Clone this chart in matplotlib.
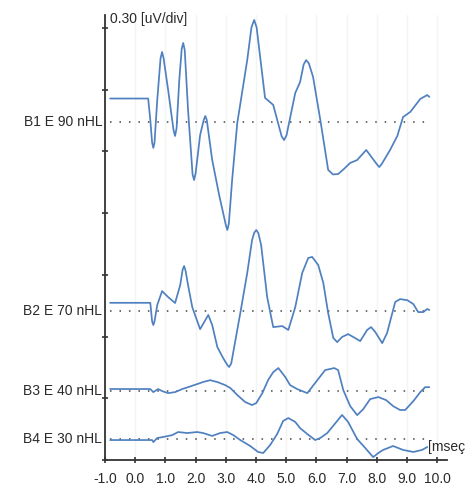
import matplotlib
matplotlib.use("Agg")
import matplotlib.pyplot as plt

plt.rcParams['font.family'] = ['Liberation Sans', 'DejaVu Sans']

# ---- data (time in ms, amplitude in uV relative to each trace's baseline) ----
labels = ["B1 E 90 nHL", "B2 E 70 nHL", "B3 E 40 nHL", "B4 E 30 nHL"]
baselines = [1.643, 0.724, 0.335, 0.102]

b1_t = [-0.83, 0.43, 0.50, 0.56, 0.60, 0.64, 0.73, 0.84, 0.89, 0.94, 1.09, 1.27, 1.32, 1.37,
        1.46, 1.54, 1.59, 1.64, 1.75, 1.90, 1.95, 2.00, 2.15, 2.27, 2.32, 2.37, 2.55, 2.78,
        3.00, 3.05, 3.10, 3.21, 3.38, 3.71, 3.85, 3.94, 4.02, 4.11, 4.30, 4.57, 4.85, 4.93,
        5.01, 5.30, 5.46, 5.58, 5.66, 5.75, 5.89, 6.13, 6.39, 6.55, 6.72, 6.90, 7.12, 7.35,
        7.65, 8.00, 8.08, 8.16, 8.44, 8.68, 8.87, 9.11, 9.44, 9.67, 9.74]
b1_a = [0.114, 0.114, 0.010, -0.100, -0.126, -0.100, 0.107, 0.310, 0.340, 0.310, 0.156,
        -0.040, -0.068, -0.030, 0.204, 0.355, 0.384, 0.350, 0.058, -0.255, -0.282, -0.250,
        -0.063, 0.010, 0.029, 0.010, -0.185, -0.355, -0.500, -0.525, -0.495, -0.282, -0.005,
        0.301, 0.460, 0.496, 0.460, 0.350, 0.117, 0.083, -0.070, -0.088, -0.065, 0.141, 0.194,
        0.280, 0.301, 0.285, 0.219, 0.010, -0.233, -0.255, -0.253, -0.230, -0.199, -0.185,
        -0.136, -0.205, -0.219, -0.205, -0.136, -0.068, 0.024, 0.049, 0.112, 0.131, 0.122]

b2_t = [-0.83, 0.50, 0.56, 0.60, 0.64, 0.73, 0.89, 1.09, 1.32, 1.49, 1.57, 1.62, 1.67, 1.75,
        1.89, 2.15, 2.42, 2.55, 2.72, 2.91, 3.05, 3.11, 3.18, 3.48, 3.71, 3.87, 3.94, 4.01,
        4.08, 4.17, 4.37, 4.57, 4.87, 5.07, 5.30, 5.53, 5.73, 5.86, 6.06, 6.23, 6.39, 6.56,
        6.69, 6.85, 7.05, 7.28, 7.45, 7.68, 7.81, 7.95, 8.18, 8.34, 8.61, 8.77, 9.01, 9.21,
        9.37, 9.54, 9.67, 9.74]
b2_a = [0.040, 0.040, -0.050, -0.068, -0.050, 0.029, 0.097, 0.068, 0.039, 0.126, 0.200,
        0.219, 0.195, 0.126, 0.019, -0.088, -0.019, -0.068, -0.175, -0.228, -0.262, -0.272,
        -0.255, -0.010, 0.185, 0.345, 0.380, 0.394, 0.378, 0.321, 0.068, -0.078, -0.073,
        -0.092, 0.019, 0.185, 0.258, 0.263, 0.224, 0.136, -0.010, -0.131, -0.151, -0.126,
        -0.112, -0.131, -0.146, -0.092, -0.078, -0.102, -0.156, -0.107, 0.044, 0.058, 0.053,
        0.034, -0.005, -0.005, 0.010, 0.005]

b3_t = [-0.83, 0.50, 0.60, 0.76, 0.89, 1.09, 1.32, 1.56, 1.75, 2.05, 2.25, 2.48, 2.72, 2.98,
        3.15, 3.38, 3.64, 3.87, 4.01, 4.21, 4.40, 4.57, 4.74, 4.97, 5.13, 5.36, 5.70, 6.03,
        6.29, 6.59, 6.72, 6.89, 7.12, 7.35, 7.55, 7.78, 8.05, 8.31, 8.54, 8.77, 8.94, 9.21,
        9.44, 9.60, 9.74]
b3_a = [0.010, 0.010, -0.005, 0.010, 0.000, -0.010, -0.005, 0.010, 0.019, 0.034, 0.044, 0.053,
        0.044, 0.029, 0.015, -0.019, -0.053, -0.068, -0.058, -0.010, 0.053, 0.092, 0.112,
        0.068, 0.029, 0.010, -0.010, 0.053, 0.102, 0.112, 0.102, 0.005, -0.073, -0.117,
        -0.088, -0.039, -0.029, -0.044, -0.073, -0.092, -0.092, -0.049, -0.005, 0.019, 0.019]

b4_t = [-0.83, 0.56, 0.60, 0.73, 0.93, 1.23, 1.42, 1.72, 2.05, 2.25, 2.55, 2.81, 3.05, 3.25,
        3.48, 3.81, 4.07, 4.24, 4.47, 4.70, 4.90, 5.07, 5.30, 5.46, 5.70, 5.96, 6.13, 6.36,
        6.69, 6.85, 7.05, 7.35, 7.62, 7.88, 8.05, 8.21, 8.54, 8.87, 9.21, 9.50, 9.67]
b4_a = [-0.005, -0.005, -0.015, 0.005, 0.010, 0.019, 0.034, 0.029, 0.034, 0.029, 0.015, 0.029,
        0.034, 0.019, -0.005, -0.034, -0.063, -0.068, -0.029, 0.024, 0.088, 0.102, 0.083,
        0.053, 0.024, -0.005, 0.005, 0.029, 0.088, 0.117, 0.083, 0.000, -0.044, -0.088,
        -0.068, -0.053, -0.034, -0.053, -0.063, -0.053, -0.039]

traces_t = [b1_t, b2_t, b3_t, b4_t]
traces_a = [b1_a, b2_a, b3_a, b4_a]

x_ticks = [-1.0, 0.0, 1.0, 2.0, 3.0, 4.0, 5.0, 6.0, 7.0, 8.0, 9.0, 10.0]
x_ticklabels = ["-1.0", "0.0", "1.0", "2.0", "3.0", "4.0", "5.0", "6.0", "7.0", "8.0", "9.0", "10.0"]
y_ticks = [0.0, 0.3, 0.6, 0.9, 1.2, 1.5, 1.8, 2.1]
scale_label = "0.30 [uV/div]"
unit_label = "[mseç"

# ---- figure ----
W, H = 473, 486
fig = plt.figure(figsize=(W / 100, H / 100), dpi=100)
ax = fig.add_axes([105 / W, (H - 460) / H, (447 - 105) / W, (460 - 15) / H])
ax.set_xlim(-1.0, 10.325)
ax.set_ylim(0, 2.163)

trace_color = '#4f80c0'
text_color = '#2a2a2a'

for t, a, base in zip(traces_t, traces_a, baselines):
    ax.plot(t, [base + v for v in a], color=trace_color, lw=1.25, solid_joinstyle='round',
            solid_capstyle='round', zorder=3)
    ax.plot([-0.83, 9.60], [base, base], color='#444444', lw=1.1, dashes=(1, 5.2), zorder=2)

for lab, base in zip(labels, baselines):
    ax.text(-1.09, base, lab, ha='right', va='center', fontsize=10, color=text_color, clip_on=False)

ax.text(-0.83, 2.144, scale_label, ha='left', va='center', fontsize=10, color=text_color, clip_on=False)
ax.text(9.70, 0.063, unit_label, ha='left', va='center', fontsize=10, color=text_color, clip_on=False)

ax.set_xticks(x_ticks)
ax.set_xticklabels(x_ticklabels, fontsize=10, color=text_color)
ax.set_yticks(y_ticks)
ax.set_yticklabels([])
ax.tick_params(axis='both', direction='inout', length=5, width=1.2, color='#333333')
ax.tick_params(axis='x', pad=6)

for s in ['top', 'right']:
    ax.spines[s].set_visible(False)
for s in ['left', 'bottom']:
    ax.spines[s].set_color('#333333')
    ax.spines[s].set_linewidth(1.3)

ax.grid(axis='x', color='#f4f4f4', lw=1.0, zorder=0)
ax.set_facecolor('white')

fig.savefig('out.png', dpi=100)
